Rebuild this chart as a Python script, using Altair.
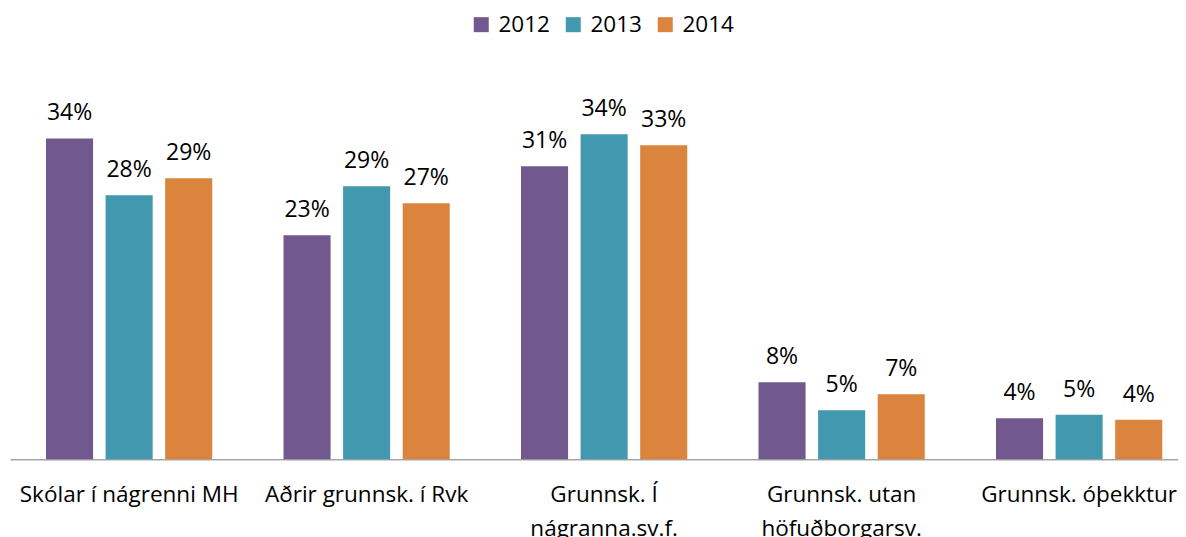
import altair as alt
import pandas as pd

categories = [
    "Skólar í nágrenni MH",
    "Aðrir grunnsk. í Rvk",
    "Grunnsk. Í\nnágranna.sv.f.",
    "Grunnsk. utan\nhöfuðborgarsv.",
    "Grunnsk. óþekktur",
]
years = ["2012", "2013", "2014"]
v2012 = [0.336, 0.2346, 0.3068, 0.0806, 0.0429]
v2013 = [0.2764, 0.2859, 0.3403, 0.0513, 0.0467]
v2014 = [0.2942, 0.268, 0.3288, 0.0681, 0.0415]
colors = ["#71588F", "#4198AF", "#DB843D"]

rows = []
for yr, vals in zip(years, [v2012, v2013, v2014]):
    for c, v in zip(categories, vals):
        rows.append({"cat": c, "year": yr, "value": v})
df = pd.DataFrame(rows)

FONT = "Open Sans"
FS = 23

base = alt.Chart(df).encode(
    x=alt.X(
        "cat:N",
        sort=categories,
        title=None,
        scale=alt.Scale(paddingInner=0.3, paddingOuter=0.10895, align=0.6957),
        axis=alt.Axis(
            labelAngle=0,
            ticks=False,
            tickSize=0,
            labelPadding=24,
            labelFont=FONT,
            labelFontSize=22.5,
            labelColor="#000000",
            labelLimit=400,
            labelOverlap=False,
            labelBaseline="top",
            labelLineHeight=34,
            labelExpr="split(datum.label, '\\n')",
            domainColor="#A6A6A6",
            domainWidth=1.5,
            grid=False,
        ),
    ),
    xOffset=alt.XOffset(
        "year:N", sort=years, scale=alt.Scale(paddingInner=0.21, paddingOuter=0)
    ),
    y=alt.Y("value:Q", scale=alt.Scale(domain=[0, 0.4], nice=False), axis=None),
)

bars = base.mark_bar().encode(
    color=alt.Color(
        "year:N",
        sort=years,
        scale=alt.Scale(domain=years, range=colors),
        legend=alt.Legend(
            title=None,
            orient="none",
            direction="horizontal",
            legendX=460,
            legendY=-64,
            symbolType="square",
            symbolSize=225,
            symbolStrokeWidth=0,
            labelFont=FONT,
            labelFontSize=22.5,
            labelColor="#000000",
            labelOffset=6,
            columnPadding=12,
            padding=0,
        ),
    )
)

labels = base.mark_text(
    font=FONT, fontSize=FS, color="#000000", baseline="alphabetic", dy=-18
).encode(text=alt.Text("value:Q", format=".0%"))

chart = (
    alt.layer(bars, labels)
    .properties(
        width=1168,
        height=382,
        autosize=alt.AutoSizeParams(type="none"),
        padding={"left": 2, "top": 69.3, "right": 0, "bottom": 77.7},
    )
    .configure_view(stroke=None)
)

chart.save("out.html", embed_options={"renderer": "svg", "actions": False})
